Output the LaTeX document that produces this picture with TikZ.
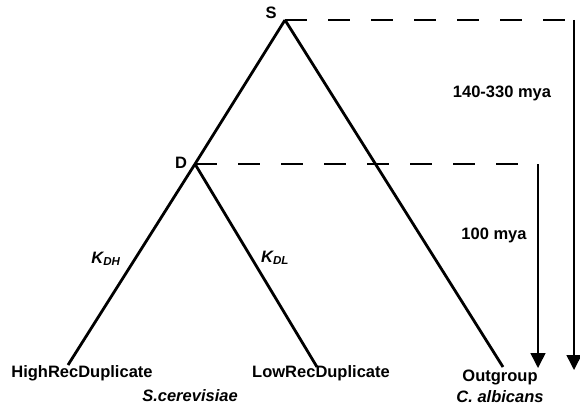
\documentclass[tikz,border=0pt]{standalone}
\usepackage{fontspec}
\setmainfont{Liberation Sans}
\usetikzlibrary{arrows.meta}

\begin{document}
\begin{tikzpicture}[
  x=1pt, y=1pt,                   % 1 unit = 1 pixel of the 580x408 frame
  >={Triangle[width=15pt,length=15pt]},
  font=\fontsize{16.5}{18}\selectfont\bfseries,
  branch/.style={line width=2.8pt},
  guide/.style={line width=1.8pt, dash pattern=on 22pt off 21pt},
  span/.style={->, line width=1.5pt},
  taxon/.style={inner sep=0pt}
  ]
  \useasboundingbox (0,0) rectangle (580,408);

  % --- vertices of the tree ---
  \coordinate (S) at (285,388);
  \coordinate (D) at (195,244);
  \coordinate (hi) at (68,43);
  \coordinate (lo) at (317,41);
  \coordinate (out) at (503,41);
  \node [taxon] (sl) at (271,395) {S};
  \node [taxon] (dl) at (181,245) {D};

  % --- branches ---
  \draw [branch] (S) -- (D) -- (hi);
  \draw [branch] (D) -- (lo);
  \draw [branch] (S) -- (out);
  \node [taxon] (kdh) at (106,149) {\itshape K\textsubscript{DH}};
  \node [taxon] (kdl) at (275,150) {\itshape K\textsubscript{DL}};

  % --- leaf names ---
  \node [taxon] (hname) at (82,35) {HighRecDuplicate};
  \node [taxon] (lname) at (321,35) {LowRecDuplicate};
  \node [taxon] (oname) at (500,31) {Outgroup};
  \node [taxon] (scer) at (190,12) {\itshape S.cerevisiae};
  \node [taxon] (calb) at (500,11) {\itshape C. albicans};

  % --- time spans ---
  \coordinate (sEnd) at (574,388);
  \coordinate (sTip) at (574,38);
  \coordinate (dEnd) at (538,244);
  \coordinate (dTip) at (538,40);
  \draw [guide] (S) -- (sEnd);
  \draw [guide] (D) -- (dEnd);
  \draw [span] (sEnd) -- (sTip);
  \draw [span] (dEnd) -- (dTip);
  \node [taxon] (old) at (502,315) {140-330 mya};
  \node [taxon] (young) at (494,173) {100 mya};

\end{tikzpicture}
\end{document}
